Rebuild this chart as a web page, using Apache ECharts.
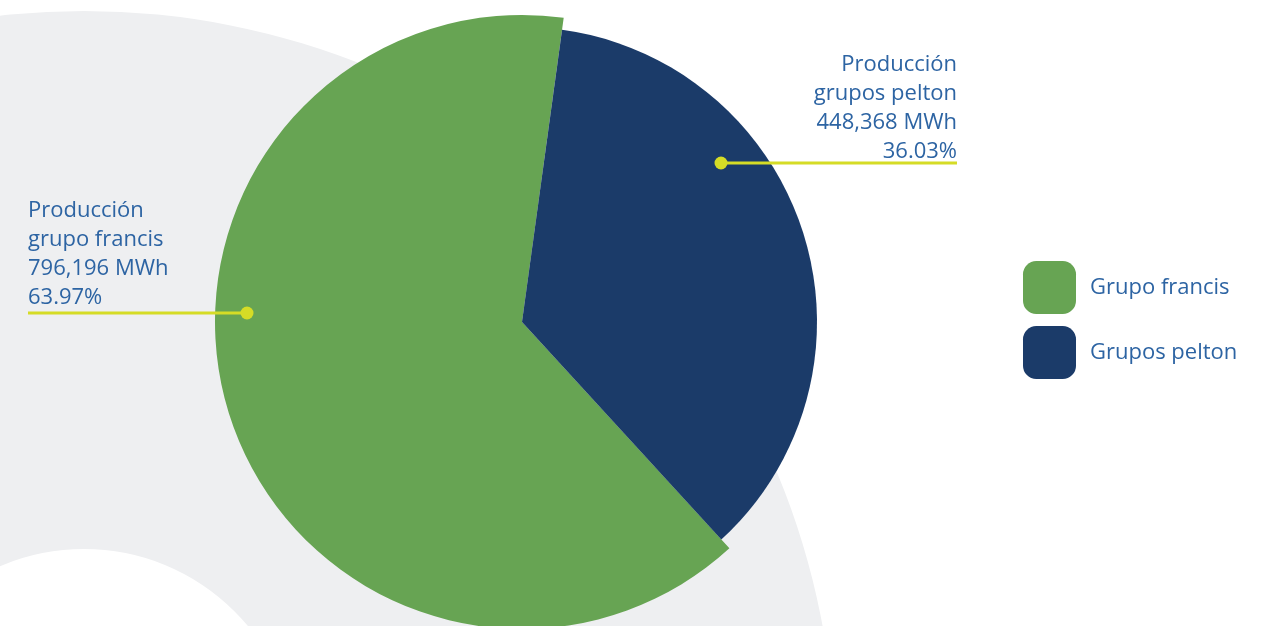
<!DOCTYPE html>
<html>
<head>
<meta charset="utf-8">
<style>
  html, body { margin: 0; padding: 0; background: #ffffff; }
  #chart { width: 1272px; height: 626px; }
</style>
<script src="https://cdn.jsdelivr.net/npm/echarts@6/dist/echarts.min.js"></script>
</head>
<body>
<div id="chart"></div>
<script>
// data
const categories = ["Grupo francis", "Grupos pelton"];
const labelNames = ["grupo francis", "grupos pelton"];
const valuesMWh = [796196, 448368];
const colors = ["#67a453", "#1b3b69"];

const textBlue = "#2d64a3";
const lineYellow = "#d5dc26";
const font = "'Open Sans', 'Noto Sans', sans-serif";

// where each label sits and where its guide line starts (dot)
const labelSpots = [
  { x: 28, y: 196, align: "left", dot: [247, 313], end: [28, 313] },
  { x: 957, y: 50, align: "right", dot: [721, 163], end: [957, 163] }
];

const chart = echarts.init(document.getElementById("chart"));

function pieData(visibleIndex) {
  return categories.map((name, i) => ({
    name: name,
    value: valuesMWh[i],
    itemStyle: { color: i === visibleIndex ? colors[i] : "rgba(0,0,0,0)" }
  }));
}

const pieBase = {
  type: "pie",
  center: [522, 322],
  startAngle: -47.5,
  clockwise: true,
  avoidLabelOverlap: false,
  emphasis: { disabled: true },
  itemStyle: { borderWidth: 0 }
};

// guide lines with a dot at the slice end
const guides = [];
labelSpots.forEach(s => {
  guides.push({
    type: "line",
    silent: true,
    z: 100,
    shape: { x1: s.dot[0], y1: s.dot[1], x2: s.end[0], y2: s.end[1] },
    style: { stroke: lineYellow, lineWidth: 3 }
  });
  guides.push({
    type: "circle",
    silent: true,
    z: 101,
    shape: { cx: s.dot[0], cy: s.dot[1], r: 6.5 },
    style: { fill: lineYellow }
  });
});

chart.setOption({
  backgroundColor: "#ffffff",
  animation: false,
  color: colors,
  graphic: [
    {
      type: "ring",
      silent: true,
      z: -10,
      shape: { cx: 84, cy: 762, r: 751, r0: 213 },
      style: { fill: "#eeeff1" }
    }
  ].concat(guides),
  legend: {
    orient: "vertical",
    left: 1023,
    top: 261,
    padding: 0,
    itemWidth: 53,
    itemHeight: 53,
    itemGap: 12,
    icon: "roundRect",
    data: categories.map((name, i) => ({ name: name, itemStyle: { color: colors[i] } })),
    textStyle: {
      color: textBlue,
      fontFamily: font,
      fontSize: 22,
      padding: [4, 0, 0, 9]
    }
  },
  series: [
    Object.assign({}, pieBase, {
      name: "francis",
      radius: 307,
      z: 2,
      label: { show: false },
      labelLine: { show: false },
      data: pieData(0)
    }),
    Object.assign({}, pieBase, {
      name: "pelton",
      radius: 295,
      z: 3,
      label: {
        show: true,
        color: textBlue,
        fontFamily: font,
        fontSize: 22,
        lineHeight: 29.2,
        formatter: p => "Producción\n" + labelNames[p.dataIndex] + "\n" +
          p.value.toLocaleString("en-US") + " MWh\n" + p.percent.toFixed(2) + "%"
      },
      labelLine: { show: false },
      labelLayout: p => {
        const s = labelSpots[p.dataIndex];
        return { x: s.x, y: s.y, align: s.align, verticalAlign: "top" };
      },
      data: pieData(1)
    })
  ]
});
</script>
</body>
</html>
